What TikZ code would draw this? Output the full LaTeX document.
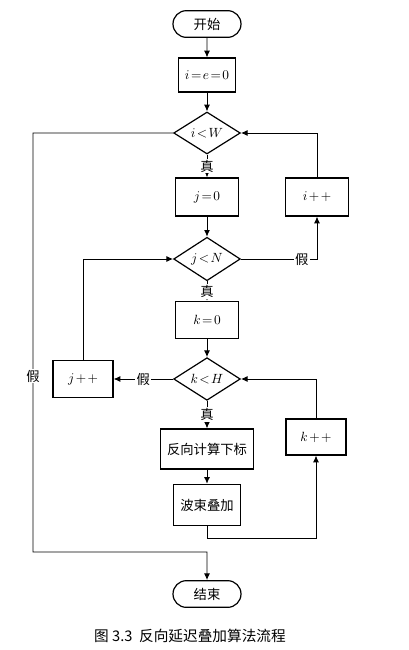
\documentclass[tikz,border=0pt]{standalone}
\usepackage{fontspec}
\usepackage{tikz}
\usetikzlibrary{shapes.geometric,shapes.misc,arrows.meta}
\newfontfamily\cjk{Noto Sans CJK SC}
\newcommand{\flowFont}{\cjk\fontsize{10}{12}\selectfont\thickmuskip=2mu\medmuskip=2mu}

\begin{document}
\begin{tikzpicture}[x=0.75pt,y=-0.75pt,>={Latex[length=5pt,width=4.5pt]}]
 \tikzset{
  flowBox/.style={rectangle,draw,line width=0.9pt,inner sep=0pt,font=\flowFont},
  flowTest/.style={diamond,draw,line width=0.9pt,inner sep=0pt,minimum width=50pt,minimum height=30pt,font=\flowFont},
  flowEnd/.style={rounded rectangle,draw,line width=0.9pt,inner sep=0pt,minimum width=51pt,minimum height=20pt,font=\flowFont},
  flowTag/.style={fill=white,inner sep=1pt,font=\flowFont},
  flowLine/.style={->,line width=0.7pt}
  }
  \useasboundingbox (0,0) rectangle (408,650);
  % terminals
  \node[flowEnd] (start) at (207,24) {开始};
  \node[flowEnd] (stop) at (207,594) {结束};
  % outer loop over i
  \node[flowBox, minimum width=43pt, minimum height=25.5pt] (init) at (207,75) {$i=e=0$};
  \node[flowTest] (cW) at (207,133) {$i<W$};
  \node[flowBox, minimum width=47pt, minimum height=28.5pt] (j0) at (207,197) {$j=0$};
  \node[flowBox, minimum width=47pt, minimum height=28.5pt] (iinc) at (317,197) {$i++$};
  % middle loop over j
  \node[flowTest] (cN) at (207,259) {$j<N$};
  \node[flowBox, minimum width=47pt, minimum height=28pt] (k0) at (207,320) {$k=0$};
  \node[flowBox, minimum width=45pt, minimum height=28pt] (jinc) at (83,379) {$j++$};
  % inner loop over k
  \node[flowTest] (cH) at (207,379) {$k<H$};
  \node[flowBox, minimum width=70pt, minimum height=30pt] (calc) at (207,449) {反向计算下标};
  \node[flowBox, minimum width=50pt, minimum height=31pt] (sum) at (207,505) {波束叠加};
  \node[flowBox, minimum width=45pt, minimum height=27pt] (kinc) at (316,437) {$k++$};
  % caption
  \node[font=\cjk\fontsize{11}{13}\selectfont] (cap) at (190,636) {图 3.3\ \ 反向延迟叠加算法流程};

  \coordinate (outL) at (33,552);
  \coordinate (sumD) at (207,538);

  \draw[flowLine] (start) -- (init);
  \draw[flowLine] (init) -- (cW);
  \draw[flowLine] (cW) -- node[flowTag] {真} (j0);
  \draw[flowLine] (j0) -- (cN);
  \draw[flowLine] (cN.east) -| node[flowTag, pos=0.4] {假} (iinc.south);
  \draw[flowLine] (iinc.north) |- (cW.east);
  \draw[flowLine] (cN) -- node[flowTag] {真} (k0);
  \draw[flowLine] (k0) -- (cH);
  \draw[flowLine] (cH.west) -- node[flowTag] {假} (jinc.east);
  \draw[flowLine] (jinc.north) |- (cN.west);
  \draw[flowLine] (cH) -- node[flowTag] {真} (calc);
  \draw[flowLine] (calc) -- (sum);
  \draw[flowLine] (sum.south) -- (sumD) -| (kinc.south);
  \draw[flowLine] (kinc.north) |- (cH.east);
  % exit of the outer loop
  \draw[flowLine] (cW.west) -| node[flowTag, pos=0.79] {假} (outL) -- (outL -| stop) -- (stop);
\end{tikzpicture}
\end{document}
